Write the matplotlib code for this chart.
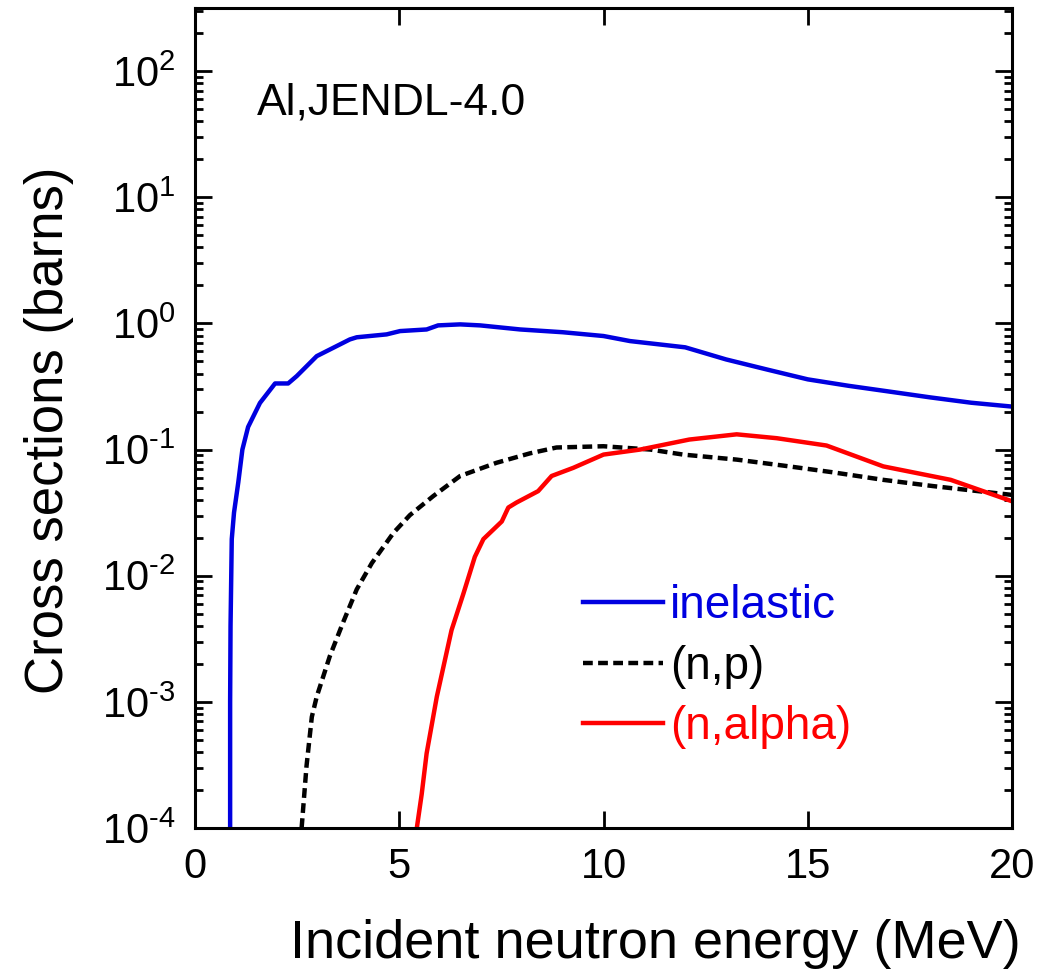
import matplotlib
matplotlib.use("Agg")
import matplotlib.pyplot as plt
from matplotlib.ticker import LogLocator, FixedLocator, NullLocator, FuncFormatter
import numpy as np

plt.rcParams['font.family'] = ['Liberation Sans', 'DejaVu Sans']
plt.rcParams['mathtext.fontset'] = 'custom'
plt.rcParams['mathtext.rm'] = 'Liberation Sans'
plt.rcParams['mathtext.it'] = 'Liberation Sans'

# ---- data (energy in MeV, cross section in barns) ----
inel_E = [0.86, 0.86, 0.87, 0.90, 0.955, 1.06, 1.16, 1.30, 1.59, 1.96, 2.28, 2.49, 2.98,
          3.79, 3.96, 4.69, 5.02, 5.67, 5.95, 6.49, 6.98, 7.96, 9.0, 10.0, 10.65, 12.0,
          13.0, 14.0, 15.0, 16.0, 17.0, 18.0, 19.0, 20.0]
inel_xs = [1.0e-4, 1.0e-3, 4.0e-3, 0.0195, 0.0316, 0.055, 0.1, 0.151, 0.234, 0.334, 0.334,
           0.382, 0.55, 0.746, 0.776, 0.818, 0.869, 0.895, 0.964, 0.982, 0.964, 0.895,
           0.851, 0.794, 0.724, 0.646, 0.518, 0.431, 0.36, 0.32, 0.288, 0.259, 0.235, 0.219]

np_E = [2.61, 2.73, 2.86, 2.98, 3.30, 3.63, 3.96, 4.33, 4.86, 5.26, 5.83, 6.49, 7.38, 8.2,
        8.85, 10.0, 11.14, 11.95, 13.26, 14.4, 15.6, 16.85, 18.07, 18.89, 20.0]
np_xs = [1.0e-4, 3.1e-4, 7.6e-4, 1.1e-3, 2.3e-3, 4.3e-3, 7.8e-3, 0.0126, 0.0219, 0.0302,
         0.0427, 0.0617, 0.0785, 0.0933, 0.1038, 0.1062, 0.1, 0.0912, 0.0832, 0.0746,
         0.0661, 0.0575, 0.0513, 0.0479, 0.0437]

na_E = [5.43, 5.55, 5.67, 5.92, 6.28, 6.57, 6.85, 7.06, 7.51, 7.67, 7.87, 8.40, 8.73, 9.26,
        10.0, 10.9, 12.1, 13.26, 14.24, 15.46, 16.85, 18.5, 20.0]
na_xs = [1.0e-4, 1.86e-4, 3.9e-4, 1.1e-3, 3.7e-3, 7.2e-3, 0.0141, 0.0195, 0.0269, 0.0347,
         0.038, 0.0468, 0.0617, 0.0716, 0.0912, 0.1, 0.12, 0.132, 0.123, 0.1076, 0.0735,
         0.0575, 0.0389]

x_ticks = [0, 5, 10, 15, 20]
y_major = [1e-4, 1e-3, 1e-2, 1e-1, 1e0, 1e1, 1e2]

fig = plt.figure(figsize=(10.48, 9.71), dpi=100)
ax = fig.add_axes([195/1048, 1 - 828/971, (1012-195)/1048, (828-8)/971])

ax.plot(inel_E, inel_xs, color='#0000e0', lw=3.2, label='inelastic')
ax.plot(np_E, np_xs, color='black', lw=3.2, dashes=(2.2, 1.2), label='(n,p)')
ax.plot(na_E, na_xs, color='#ff0000', lw=3.2, label='(n,alpha)')

ax.set_yscale('log')
ax.set_xlim(0, 20)
ax.set_ylim(1e-4, 10**2.5)

ax.xaxis.set_major_locator(FixedLocator(x_ticks))
ax.xaxis.set_minor_locator(NullLocator())
ax.yaxis.set_major_locator(FixedLocator(y_major))
ax.yaxis.set_minor_locator(LogLocator(base=10, subs=np.arange(2, 10), numticks=20))

def yfmt(v, pos):
    e = int(round(np.log10(v)))
    if e < 0:
        return r'$\mathregular{10^{\text{-}%d}}$' % -e
    return r'$\mathregular{10^{%d}}$' % e
ax.yaxis.set_major_formatter(FuncFormatter(yfmt))

for s in ax.spines.values():
    s.set_linewidth(2.2)
ax.tick_params(which='both', direction='in', top=True, right=True, width=2.0)
ax.tick_params(which='major', length=12, labelsize=30, pad=14)
ax.tick_params(which='minor', length=6)

ax.set_ylabel('Cross sections (barns)', fontsize=38)
ax.yaxis.set_label_coords(-0.148, 0.485)
fig.text(0.625, 1 - 958/971, 'Incident neutron energy (MeV)', fontsize=39,
         ha='center', va='baseline')

ax.text(0.076, 0.884, 'Al,JENDL-4.0', transform=ax.transAxes, fontsize=32,
        ha='left', va='center')

leg = ax.legend(loc='upper left', bbox_to_anchor=(0.475, 0.297), frameon=False,
                fontsize=33, handlelength=1.75, handletextpad=0.15, labelspacing=0.36,
                borderaxespad=0, borderpad=0)
for txt, ln in zip(leg.get_texts(), leg.get_lines()):
    txt.set_color(ln.get_color())

fig.savefig('out.png', dpi=100)
